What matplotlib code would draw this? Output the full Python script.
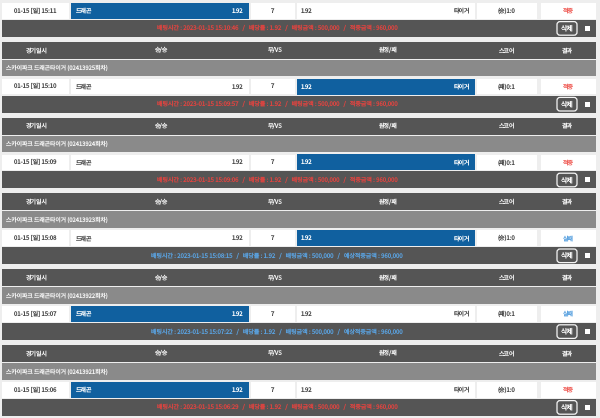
import matplotlib
matplotlib.use('Agg')
import matplotlib.pyplot as plt
from matplotlib.patches import Rectangle, FancyBboxPatch

plt.rcParams['font.family'] = ['Noto Sans CJK KR', 'DejaVu Sans']
plt.rcParams['text.hinting'] = 'no_hinting'
plt.rcParams['text.hinting_factor'] = 1

times = ['01-15 [일] 15:11', '01-15 [일] 15:10', '01-15 [일] 15:09',
         '01-15 [일] 15:08', '01-15 [일] 15:07', '01-15 [일] 15:06']
rounds = [None, '02413925', '02413924', '02413923', '02413922', '02413921']
picks = ['home', 'away', 'away', 'away', 'home', 'home']
scores = ['(승)1:0', '(패)0:1', '(패)0:1', '(승)1:0', '(패)0:1', '(승)1:0']
results = ['적중', '적중', '적중', '실패', '실패', '적중']
bet_times = ['15:10:46', '15:09:57', '15:09:06', '15:08:15', '15:07:22', '15:06:29']
headers = ['경기일시', '승/승', '무/VS', '원정/패', '스코어', '결과']
home_name, away_name = '드래곤', '타이거'
odds, draw = '1.92', '7'
stake, payout = '500,000', '960,000'

BG, DARK, GRAY, BLUE = '#eeeeee', '#555555', '#8a8a8a', '#10609f'
RED, SKY = '#e04440', '#5aa2e0'
INK = '#484848'
cols = [(2, 68.5), (70.5, 248.5), (250.5, 295), (297, 475), (477, 537), (541, 596)]
header_x = [37, 162, 275, 388, 507, 567]
PERIOD, ROW0 = 75.8, 3.0
FS = 4.3

fig = plt.figure(figsize=(6.0, 4.18), dpi=100, facecolor=BG)
ax = fig.add_axes([0, 0, 1, 1])
ax.set_xlim(0, 600)
ax.set_ylim(418, 0)
ax.axis('off')

def box(x0, x1, y0, y1, color, **kw):
    ax.add_patch(Rectangle((x0, y0), x1 - x0, y1 - y0, fc=color, ec='none', **kw))

def txt(x, y, s, color=INK, ha='center', size=FS, **kw):
    ax.text(x, y, s, color=color, ha=ha, va='center', fontsize=size, **kw)

for i in range(6):
    top = ROW0 + PERIOD * i
    if rounds[i] is not None:
        box(2, 596, top - 37, top - 20, DARK)
        for hx, h in zip(header_x, headers):
            txt(hx, top - 28.5, h, color='#f2f2f2')
        box(2, 596, top - 19, top - 2.5, GRAY)
        txt(5.5, top - 10.5, f'스카이파크 드래곤타이거 ({rounds[i]}회차)', color='#f5f5f5', ha='left', size=4.2)
    for j, (a, b) in enumerate(cols):
        box(a, b, top, top + 15.5, 'white')
    ym = top + 7.8
    hx0, hx1 = cols[1]
    ax_x0, ax_x1 = cols[3]
    home_on = picks[i] == 'home'
    if home_on:
        box(hx0, hx1, top - 0.3, top + 15.8, BLUE)
    else:
        box(ax_x0 - 0.5, ax_x1, top - 0.3, top + 15.8, BLUE)
    hc = 'white' if home_on else INK
    ac = 'white' if not home_on else INK
    txt((cols[0][0] + cols[0][1]) / 2, ym, times[i])
    txt(hx0 + 5, ym, home_name, color=hc, ha='left')
    txt(hx1 - 5, ym, odds, color=hc, ha='right')
    txt((cols[2][0] + cols[2][1]) / 2, ym, draw)
    txt(ax_x0 + 4, ym, odds, color=ac, ha='left')
    txt(ax_x1 - 4.5, ym, away_name, color=ac, ha='right')
    txt((cols[4][0] + cols[4][1]) / 2, ym, scores[i])
    hit = results[i] == '적중'
    txt((cols[5][0] + cols[5][1]) / 2, ym, results[i], color='#f0605a' if hit else SKY)

    by0 = top + 16.8
    box(2, 596, by0, by0 + 17, DARK)
    label = '적중금액' if hit else '예상적중금액'
    info = (f'배팅시간 : 2023-01-15 {bet_times[i]}   /   배당률 : {odds}   /   '
            f'배팅금액 : {stake}   /   {label} : {payout}')
    txt(277, by0 + 8.5, info, color=RED if hit else SKY, size=4.3)
    ax.add_patch(FancyBboxPatch((557, by0 + 1.8), 20, 13.6,
                                boxstyle='round,pad=0,rounding_size=3',
                                fc=DARK, ec='#f5f5f5', lw=0.9))
    txt(567, by0 + 8.5, '삭제', color='white', size=5.0)
    box(585, 590, by0 + 6, by0 + 11, 'white')

fig.savefig('out.png', dpi=100, facecolor=BG)
